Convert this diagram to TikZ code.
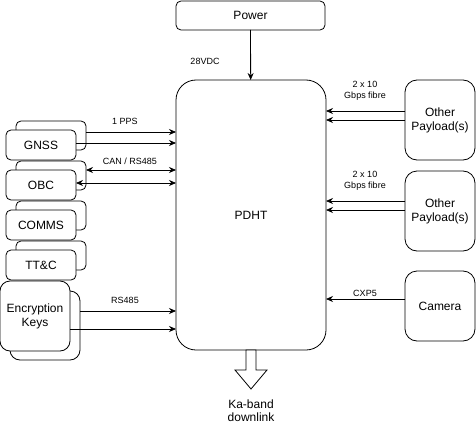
\documentclass[tikz,border=0pt]{standalone}
\usepackage{fontspec}
\setmainfont{Liberation Sans}
\usetikzlibrary{arrows.meta}
\begin{document}
\begin{tikzpicture}[x=1pt,y=-1pt,
  box/.style={draw, fill=white, line width=0.8pt, rounded corners=5pt, inner sep=0pt, outer sep=0pt,
    font=\fontsize{12}{14}\selectfont, align=center},
  lbl/.style={font=\fontsize{9}{11}\selectfont, align=center, inner sep=0pt},
  conn/.style={line width=0.8pt, -{Stealth[length=7pt,width=6pt]}},
  bconn/.style={line width=0.8pt, {Stealth[length=7pt,width=6pt]}-{Stealth[length=7pt,width=6pt]}}]
\useasboundingbox (0,0) rectangle (476,425);
% main boxes
\node[box, minimum width=149pt, minimum height=29pt] (power) at (250.5,15.5) {Power};
\node[box, rounded corners=20pt, minimum width=150pt, minimum height=270pt] (pdht) at (251,215) {PDHT};
% left stacked boxes
\node[box, minimum width=70pt, minimum height=29pt] (gnssB) at (51,135.5) {};
\node[box, minimum width=70pt, minimum height=30pt] (gnss) at (41,145) {GNSS};
\node[box, minimum width=70pt, minimum height=29pt] (obcB) at (51,175.5) {};
\node[box, minimum width=70pt, minimum height=30pt] (obc) at (41,185) {OBC};
\node[box, minimum width=70pt, minimum height=29pt] (commsB) at (51,215.5) {};
\node[box, minimum width=70pt, minimum height=30pt] (comms) at (41,225) {COMMS};
\node[box, minimum width=70pt, minimum height=29pt] (ttcB) at (51,255.5) {};
\node[box, minimum width=70pt, minimum height=30pt] (ttc) at (41,265) {TT\&C};
\node[box, rounded corners=10pt, minimum width=70pt, minimum height=69pt] (encB) at (45,325.5) {};
\node[box, rounded corners=10pt, minimum width=70pt, minimum height=70pt] (enc) at (35,316) {Encryption\\Keys};
% right boxes
\node[box, rounded corners=12pt, minimum width=70pt, minimum height=80pt] (pay1) at (440,120) {Other\\Payload(s)};
\node[box, rounded corners=12pt, minimum width=70pt, minimum height=80pt] (pay2) at (440,211) {Other\\Payload(s)};
\node[box, rounded corners=12pt, minimum width=70pt, minimum height=70pt] (cam) at (440,306) {Camera};
% connectors
\draw[conn] (power) -- (pdht);
\node[lbl] (l28) at (205,61) {28VDC};
\draw[conn] ([yshift=3.5pt]gnssB.east) -- ([yshift=3.5pt]gnssB.east -| pdht.west);
\draw[conn] ([yshift=2pt]gnss.east) -- ([yshift=2pt]gnss.east -| pdht.west);
\node[lbl] (lpps) at (125,121) {1 PPS};
\draw[bconn] ([yshift=5.5pt]obcB.east) -- ([yshift=5.5pt]obcB.east -| pdht.west);
\draw[bconn] ([yshift=2pt]obc.east) -- ([yshift=2pt]obc.east -| pdht.west);
\node[lbl] (lcan) at (130,161) {CAN / RS485};
\draw[conn] ([yshift=14.5pt]encB.east) -- ([yshift=14.5pt]encB.east -| pdht.west);
\draw[conn] ([yshift=-13pt]enc.east) -- ([yshift=-13pt]enc.east -| pdht.west);
\node[lbl] (lrs) at (125,300) {RS485};
\draw[conn] ([yshift=9pt]pay1.west) -- ([yshift=9pt]pay1.west -| pdht.east);
\draw[conn] (pay1.west) -- (pay1.west -| pdht.east);
\node[lbl] (lf1) at (365,90.5) {2 x 10\\Gbps fibre};
\draw[conn] ([yshift=10pt]pay2.west) -- ([yshift=10pt]pay2.west -| pdht.east);
\draw[conn] ([yshift=1pt]pay2.west) -- ([yshift=1pt]pay2.west -| pdht.east);
\node[lbl] (lf2) at (365,180.5) {2 x 10\\Gbps fibre};
\draw[conn] ([yshift=7pt]cam.west) -- ([yshift=7pt]cam.west -| pdht.east);
\node[lbl] (lcxp) at (365,293) {CXP5};
% Ka-band block arrow
\draw[line width=0.8pt, fill=white] (pdht.south) ++(-5,0) -- ++(0,20) -- ++(-11,0) -- ++(16,19) -- ++(16,-19) -- ++(-11,0) -- ++(0,-20) -- cycle;
\node[lbl, font=\fontsize{12}{13}\selectfont] (lka) at (251,410.5) {Ka-band\\downlink};
\end{tikzpicture}
\end{document}
